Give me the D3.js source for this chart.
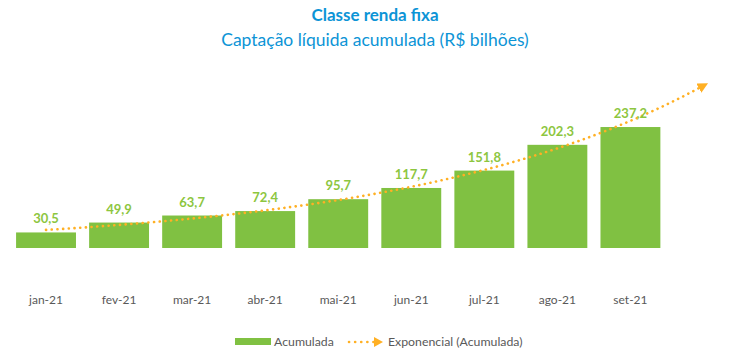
<!DOCTYPE html>
<html><head><meta charset="utf-8">
<script src="https://cdn.jsdelivr.net/npm/d3@7"></script>
<style>body{margin:0;background:#fff;}svg{display:block;font-family:Lato,"Open Sans",sans-serif;}</style>
</head><body><svg id="c" width="750" height="356"></svg>
<script>
const categories = ["jan-21","fev-21","mar-21","abr-21","mai-21","jun-21","jul-21","ago-21","set-21"];
const values = [30.5,49.9,63.7,72.4,95.7,117.7,151.8,202.3,237.2];
const labels = ["30,5","49,9","63,7","72,4","95,7","117,7","151,8","202,3","237,2"];
const forecastSlots = ["f1"];

const svg = d3.select("#c");
const barColor = "#80C142", labelColor = "#8DC63F", trendColor = "#FFB024", axisText = "#595959", titleColor = "#0C94D6";

const x = d3.scaleBand().domain(categories.concat(forecastSlots)).range([9.5, 740]).paddingInner(0.18).paddingOuter(0.09);
const y = d3.scaleLinear().domain([0, 350]).range([248, 69.5]);

// title
svg.append("text").attr("x", 375).attr("y", 21).attr("text-anchor","middle").attr("fill",titleColor)
  .attr("font-size",17).attr("font-weight","bold").text("Classe renda fixa");
svg.append("text").attr("x", 375).attr("y", 46).attr("text-anchor","middle").attr("fill",titleColor)
  .attr("font-size",17.5).text("Captação líquida acumulada (R$ bilhões)");

// bars
svg.append("g").selectAll("rect").data(values).join("rect")
  .attr("x",(d,i)=>x(categories[i])).attr("width",x.bandwidth())
  .attr("y",d=>y(d)).attr("height",d=>y(0)-y(d)).attr("fill",barColor);

// x axis labels
const xAxis = d3.axisBottom(x).tickValues(categories).tickSize(0).tickPadding(0);
const gx = svg.append("g").attr("transform","translate(0,296)").call(xAxis);
gx.select(".domain").remove();
gx.selectAll("text").attr("fill",axisText).attr("font-size",12).attr("font-family","Lato,'Open Sans',sans-serif").attr("dy","0.7em");

// exponential trendline (least squares on ln values), forecast forward 1 period
const n = values.length;
const xs = values.map((d,i)=>i+1), ls = values.map(d=>Math.log(d));
const mx = d3.mean(xs), ml = d3.mean(ls);
const b = d3.sum(xs.map((v,i)=>(v-mx)*(ls[i]-ml))) / d3.sum(xs.map(v=>(v-mx)*(v-mx)));
const a = ml - b*mx;
const allCats = categories.concat(forecastSlots);
const pos = t => {
  const c0 = x(allCats[0]) + x.bandwidth()/2, step = x.step();
  return c0 + (t-1)*step;
};
const pts = d3.range(1, n+1+0.0001, 0.05).map(t=>[pos(t), y(Math.exp(a + b*t))]);
const defs = svg.append("defs");
defs.append("marker").attr("id","arr").attr("viewBox","0 0 10 10").attr("refX",5).attr("refY",5)
  .attr("markerWidth",4).attr("markerHeight",4).attr("orient","auto").attr("markerUnits","strokeWidth")
  .append("path").attr("d","M0,0 L10,5 L0,10 z").attr("fill",trendColor);
svg.append("path").attr("d", d3.line()(pts)).attr("fill","none").attr("stroke",trendColor)
  .attr("stroke-width",2.6).attr("stroke-dasharray","0.1 5.6").attr("stroke-linecap","round")
  .attr("marker-end","url(#arr)");

// value labels
svg.append("g").selectAll("text").data(values).join("text")
  .attr("x",(d,i)=>x(categories[i])+x.bandwidth()/2).attr("y",d=>y(d)-9)
  .attr("text-anchor","middle").attr("fill",labelColor).attr("font-size",13).attr("font-weight","bold")
  .text((d,i)=>labels[i]);

// legend
const lg = svg.append("g");
lg.append("rect").attr("x",235).attr("y",338).attr("width",36).attr("height",7).attr("fill",barColor);
lg.append("text").attr("x",274).attr("y",346).attr("fill",axisText).attr("font-size",12.3).text("Acumulada");
lg.append("path").attr("d","M349,342 L378,342").attr("stroke",trendColor).attr("stroke-width",2.6)
  .attr("stroke-dasharray","0.1 6").attr("stroke-linecap","round").attr("fill","none");
lg.append("path").attr("d","M374,337 L383,342 L374,347 Z").attr("fill",trendColor);
lg.append("text").attr("x",388).attr("y",346).attr("fill",axisText).attr("font-size",12.3).text("Exponencial (Acumulada)");
</script></body></html>
